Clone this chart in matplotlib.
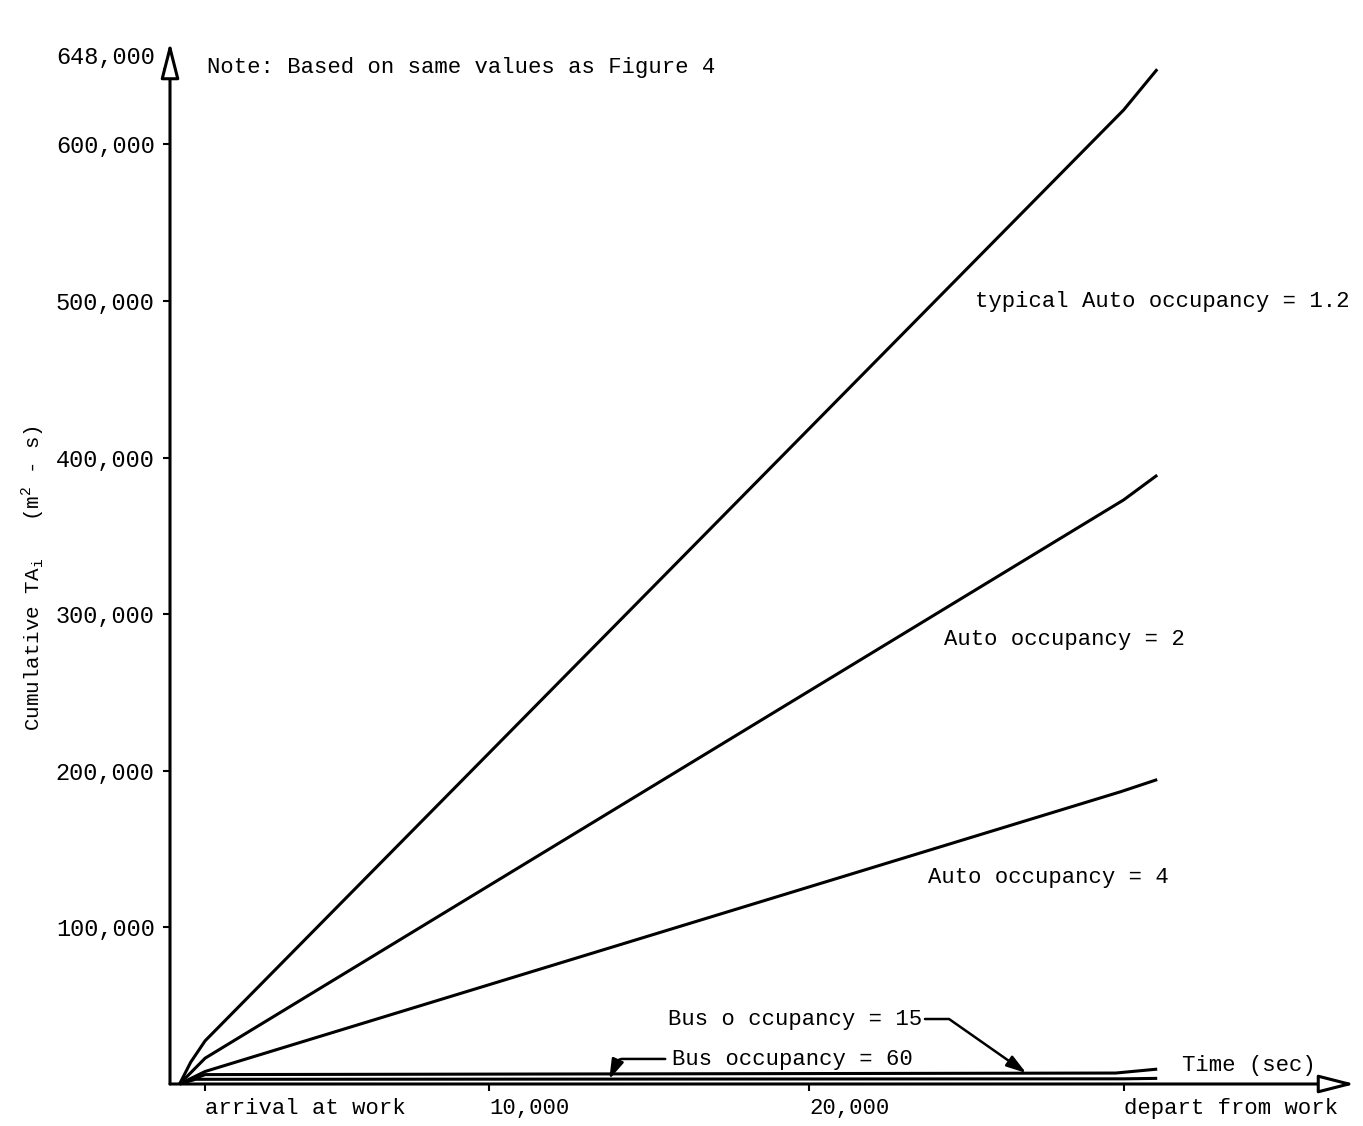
import matplotlib
matplotlib.use('Agg')
import matplotlib.pyplot as plt

plt.rcParams['font.family'] = ['Liberation Mono', 'DejaVu Sans Mono']
plt.rcParams['mathtext.fontset'] = 'custom'
plt.rcParams['mathtext.rm'] = 'Liberation Mono'

# time (sec) and cumulative TA values
auto12_t = [300, 650, 1100, 29850, 30900]
auto12_v = [0, 14000, 27600, 622000, 648000]
auto2_t = [300, 1100, 29850, 30900]
auto2_v = [0, 16500, 373000, 388800]
auto4_t = [300, 1100, 29750, 30900]
auto4_v = [0, 8000, 186600, 194400]
bus15_t = [300, 1100, 29600, 30900]
bus15_v = [0, 6000, 7000, 9500]
bus60_t = [300, 800, 29850, 30900]
bus60_v = [0, 3000, 3300, 3600]

x_ticks = [1100, 10000, 20000, 29850]
x_labels = ['arrival at work', '10,000', '20,000', 'depart from work']
y_ticks = [100000, 200000, 300000, 400000, 500000, 600000, 648000]
y_labels = [f'{v:,}' for v in y_ticks]

W, H = 1363, 1126


def px(x, y):
    """pixel position -> figure fraction"""
    return x / W, 1 - y / H


fig = plt.figure(figsize=(W / 100, H / 100), dpi=100)
ax = fig.add_axes([170 / W, 1 - 1084 / H, (1355 - 170) / W, (1084 - 42) / H])
ax.set_xlim(0, (1355 - 170) * 31.3)
ax.set_ylim(0, (1084 - 42) / 156.6 * 100000)

lw = 2.2
for t, v in [(auto12_t, auto12_v), (auto2_t, auto2_v), (auto4_t, auto4_v),
             (bus15_t, bus15_v), (bus60_t, bus60_v)]:
    ax.plot(t, v, color='black', lw=lw, solid_capstyle='butt', clip_on=False)

# axes drawn as arrows with open heads
for spine in ax.spines.values():
    spine.set_visible(False)
head = dict(arrowstyle='-|>,head_length=1.1,head_width=0.28', fc='white',
            ec='black', lw=lw, mutation_scale=20, shrinkA=0, shrinkB=0)
ax.annotate('', xy=(0, 1), xytext=(0, 0), xycoords='axes fraction', arrowprops=head)
ax.annotate('', xy=(1, 0), xytext=(0, 0), xycoords='axes fraction', arrowprops=head)

ax.set_xticks(x_ticks)
ax.set_xticklabels(x_labels, ha='left', fontsize=16)
ax.set_yticks(y_ticks)
ax.set_yticklabels(y_labels, fontsize=17)
ax.get_yticklabels()[-1].set_va('bottom')
ax.tick_params(axis='both', direction='out', length=5, width=1.5)
ax.tick_params(axis='y', pad=6)
ax.tick_params(axis='x', pad=5)

fig.text(*px(33, 578), 'Cumulative TA$_\\mathregular{i}$   (m$^\\mathregular{2}$ - s)',
         rotation=90, ha='center', va='center', fontsize=15)

fig.text(*px(207, 67), 'Note: Based on same values as Figure 4', fontsize=16, va='center')
fig.text(*px(975, 301), 'typical Auto occupancy = 1.2', fontsize=16, va='center')
fig.text(*px(944, 640), 'Auto occupancy = 2', fontsize=16, va='center')
fig.text(*px(928, 878), 'Auto occupancy = 4', fontsize=16, va='center')
fig.text(*px(668, 1020), 'Bus o ccupancy = 15', fontsize=16, va='center')
fig.text(*px(672, 1059), 'Bus occupancy = 60', fontsize=16, va='center')
fig.text(*px(1182, 1066), 'Time (sec)', fontsize=16, va='center')

pointer = dict(arrowstyle='-|>,head_length=0.8,head_width=0.25', fc='black',
               ec='black', lw=1.8, mutation_scale=15, shrinkA=0, shrinkB=0)
ax.annotate('', xy=(26800, 7000), xytext=(23630, 41500),
            arrowprops=dict(pointer, connectionstyle='angle,angleA=0,angleB=-35,rad=0'))
ax.annotate('', xy=(13750, 3000), xytext=(15500, 16000),
            arrowprops=dict(pointer, connectionstyle='angle,angleA=0,angleB=66,rad=4'))

fig.savefig('out.png', dpi=100)
